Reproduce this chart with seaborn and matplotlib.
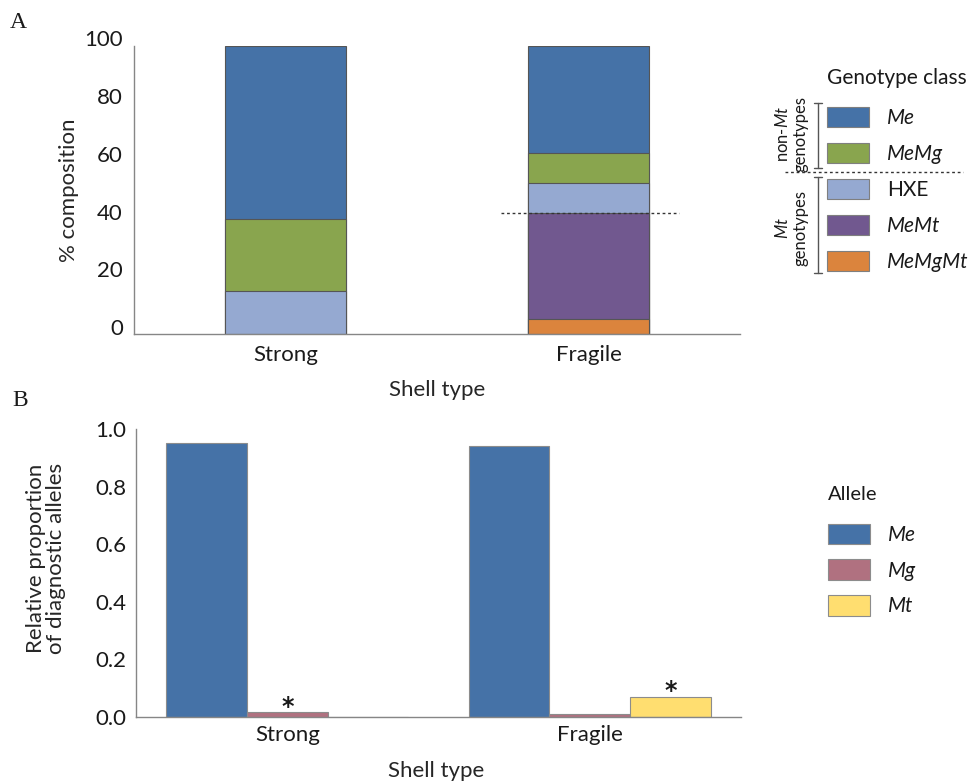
import numpy as np
import pandas as pd
import matplotlib
matplotlib.use("Agg")
import matplotlib.pyplot as plt
import matplotlib.transforms as mtransforms
from matplotlib.patches import Patch
from matplotlib.lines import Line2D
import seaborn as sns

# ---------------- data ----------------
shell_types = ["Strong", "Fragile"]
genotype_classes = ["Me", "MeMg", "HXE", "MeMt", "MeMgMt"]
pct_me = [60.3, 37.1]
pct_memg = [24.9, 10.5]
pct_hxe = [14.8, 10.4]
pct_memt = [0.0, 36.8]
pct_memgmt = [0.0, 5.2]

alleles = ["Me", "Mg", "Mt"]
prop_me = [0.952, 0.942]
prop_mg = [0.016, 0.009]
prop_mt = [0.0, 0.070]
significant = [("Strong", "Mg"), ("Fragile", "Mt")]

geno_colors = {"Me": "#4572A7", "MeMg": "#89A54E", "HXE": "#95A9D1",
               "MeMt": "#71588F", "MeMgMt": "#DB843D"}
allele_colors = {"Me": "#4572A7", "Mg": "#B07180", "Mt": "#FFDE70"}

# ---------------- style ----------------
sns.set_style("white")
plt.rcParams["font.family"] = ["Lato", "DejaVu Sans"]
plt.rcParams["mathtext.fontset"] = "custom"
plt.rcParams["mathtext.rm"] = "Lato"
plt.rcParams["mathtext.it"] = "Lato:italic"
plt.rcParams["text.color"] = "#1a1a1a"

W, H = 975, 782
fig = plt.figure(figsize=(W / 100, H / 100), dpi=100)

def fx(x):
    return x / W

def fy(y):
    return 1 - y / H

axA = fig.add_axes([fx(134), fy(334), fx(740) - fx(134), fy(45.5) - fy(334)])
axB = fig.add_axes([fx(136), fy(717), fx(741) - fx(136), fy(429) - fy(717)])

spine_col = "#868686"
for ax in (axA, axB):
    for s in ("top", "right"):
        ax.spines[s].set_visible(False)
    for s in ("left", "bottom"):
        ax.spines[s].set_color(spine_col)
        ax.spines[s].set_linewidth(1.0)
    ax.tick_params(length=0, labelsize=16, colors="#1a1a1a")

# ---------------- panel A: stacked composition ----------------
values = {"Me": pct_me, "MeMg": pct_memg, "HXE": pct_hxe,
          "MeMt": pct_memt, "MeMgMt": pct_memgmt}
stack_order = ["MeMgMt", "MeMt", "HXE", "MeMg", "Me"]   # bottom -> top
seg = np.array([values[g] for g in stack_order])
cum = np.cumsum(seg, axis=0)
for i in reversed(range(len(stack_order))):
    g = stack_order[i]
    dfa = pd.DataFrame({"shell": shell_types, "top": cum[i], "val": seg[i]})
    dfa = dfa[dfa["val"] > 0]
    sns.barplot(data=dfa, x="shell", y="top", order=shell_types,
                color=geno_colors[g], saturation=1, width=0.4,
                edgecolor="#555555", linewidth=0.8, ax=axA)

axA.set_xlim(-0.5, 1.5)
axA.set_ylim(0, 100)
axA.set_yticks(np.arange(0, 101, 20))
axA.tick_params(axis="y", pad=8)
axA.tick_params(axis="x", pad=8)
off = mtransforms.ScaledTranslation(0, 7 / 100, fig.dpi_scale_trans)
for lab in axA.get_yticklabels():
    lab.set_transform(lab.get_transform() + off)
axA.set_ylabel("% composition", fontsize=16)
axA.set_xlabel("Shell type", fontsize=16)
axA.yaxis.set_label_coords((69 - 134) / 606, 0.5)
axA.xaxis.set_label_coords(0.5, (334 - 380) / 288.5)
axA.yaxis.label.set_va("center")

# Mt genotypes total line on the fragile bar
mt_total = pct_memt[1] + pct_memgmt[1]
axA.hlines(mt_total, 1 - 0.29, 1 + 0.30, colors="#333333",
           linestyles=(0, (2, 2)), linewidth=1.0, zorder=5)

# legend A
hA = [Patch(facecolor=geno_colors[g], edgecolor="#7f7f7f", linewidth=0.8, label=g)
      for g in genotype_classes]
legA = fig.legend(handles=hA, loc="center left",
                  bbox_to_anchor=(fx(827), fy(189.5)), frameon=False,
                  fontsize=15, handlelength=2.0,
                  handleheight=1.1, handletextpad=0.9, labelspacing=0.72,
                  borderpad=0, borderaxespad=0)
for t in legA.get_texts():
    if t.get_text() != "HXE":
        t.set_fontstyle("italic")
fig.text(fx(827), fy(78), "Genotype class", fontsize=15, ha="left", va="center")

# brackets & divider next to legend A
bc = "#555555"
def bracket(y0, y1):
    x = fx(817.5)
    fig.add_artist(Line2D([x, x], [fy(y0), fy(y1)], color=bc, lw=1.0,
                          transform=fig.transFigure))
    for yy in (y0, y1):
        fig.add_artist(Line2D([fx(813.5), fx(821.5)], [fy(yy), fy(yy)], color=bc,
                              lw=1.0, transform=fig.transFigure))
bracket(102.5, 168)
bracket(176.5, 273)
fig.add_artist(Line2D([fx(785), fx(963)], [fy(172), fy(172)], color="#333333",
                      lw=1.0, ls=(0, (2, 2)), transform=fig.transFigure))
fig.text(fx(791), fy(134), "non-$\\mathit{Mt}$\ngenotypes", rotation=90,
         ha="center", va="center", multialignment="center", fontsize=12,
         linespacing=1.1)
fig.text(fx(791), fy(228), "$\\mathit{Mt}$\ngenotypes", rotation=90,
         ha="center", va="center", multialignment="center", fontsize=12,
         linespacing=1.1)

# ---------------- panel B: allele proportions ----------------
dfb = pd.DataFrame({
    "shell": np.repeat(shell_types, len(alleles)),
    "allele": alleles * len(shell_types),
    "prop": np.ravel(np.column_stack([prop_me, prop_mg, prop_mt])),
})
sns.barplot(data=dfb, x="shell", y="prop", hue="allele", order=shell_types,
            hue_order=alleles, palette=allele_colors, saturation=1, width=0.8,
            edgecolor="#8c8c8c", linewidth=0.8, ax=axB, legend=False)
axB.set_xlim(-0.5, 1.5)
axB.set_ylim(0, 1.0)
axB.set_yticks(np.arange(0, 1.01, 0.2))
axB.set_yticklabels([f"{v:.1f}" for v in np.arange(0, 1.01, 0.2)])
axB.tick_params(axis="y", pad=7)
axB.tick_params(axis="x", pad=5.5)
axB.set_ylabel("Relative proportion\nof diagnostic alleles", fontsize=16,
               linespacing=1.05)
axB.set_xlabel("Shell type", fontsize=16)
axB.yaxis.set_label_coords((46 - 136) / 605, (717 - 558) / 288)
axB.yaxis.label.set_va("center")
axB.xaxis.set_label_coords(0.496, (717 - 761) / 288)

for shell, allele in significant:
    cont = axB.containers[alleles.index(allele)]
    bar = cont[shell_types.index(shell)]
    xc = bar.get_x() + bar.get_width() / 2
    axB.annotate("*", (xc, bar.get_height()), xytext=(0, 6),
                 textcoords="offset points", ha="center", va="center_baseline",
                 fontsize=17, fontweight="bold", family="DejaVu Sans",
                 color="#1a1a1a")

hB = [Patch(facecolor=allele_colors[a], edgecolor="#8c8c8c", linewidth=0.8, label=a)
      for a in alleles]
legB = fig.legend(handles=hB, loc="center left",
                  bbox_to_anchor=(fx(828), fy(570)), frameon=False,
                  fontsize=15, handlelength=2.0,
                  handleheight=1.15, handletextpad=0.9, labelspacing=0.68,
                  borderpad=0, borderaxespad=0)
for t in legB.get_texts():
    t.set_fontstyle("italic")
fig.text(fx(828), fy(494), "Allele", fontsize=14.5, ha="left", va="center")

# panel letters
fig.text(fx(10), fy(22), "A", fontsize=17, family="Liberation Serif",
         ha="left", va="center")
fig.text(fx(12), fy(401), "B", fontsize=17, family="Liberation Serif",
         ha="left", va="center")

fig.savefig("out.png", dpi=100)
